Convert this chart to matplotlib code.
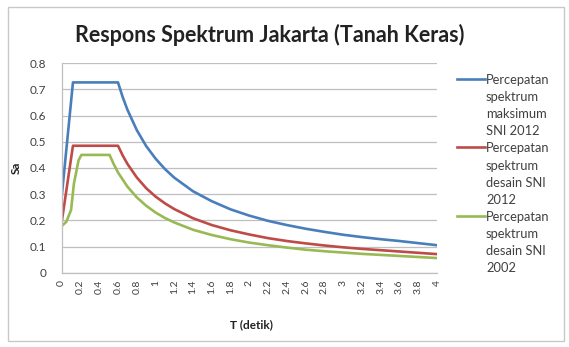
import matplotlib
matplotlib.use("Agg")
import matplotlib.pyplot as plt
from matplotlib.patches import Rectangle
from matplotlib.lines import Line2D

plt.rcParams['font.family'] = ['Lato', 'DejaVu Sans']

W, H = 569, 347

# periode (detik) dan percepatan spektrum
T_2012 = [0, 0.12, 0.6, 0.65, 0.7, 0.8, 0.9, 1.0, 1.1, 1.2, 1.4, 1.6, 1.8, 2.0,
          2.2, 2.4, 2.6, 2.8, 3.0, 3.2, 3.4, 3.6, 3.8, 4.0]
sa_maks_2012 = [0.29, 0.727, 0.727, 0.671, 0.623, 0.545, 0.484, 0.436, 0.396, 0.363,
                0.311, 0.273, 0.242, 0.218, 0.198, 0.182, 0.168, 0.156, 0.145, 0.136,
                0.128, 0.121, 0.113, 0.105]
sa_desain_2012 = [0.194, 0.485, 0.485, 0.448, 0.416, 0.364, 0.323, 0.291, 0.265, 0.243,
                  0.208, 0.182, 0.162, 0.146, 0.132, 0.121, 0.112, 0.104, 0.097, 0.091,
                  0.086, 0.081, 0.076, 0.071]

T_2002 = [0, 0.05, 0.1, 0.13, 0.18, 0.21, 0.51, 0.55, 0.6, 0.7, 0.8, 0.9, 1.0, 1.1,
          1.2, 1.4, 1.6, 1.8, 2.0, 2.2, 2.4, 2.6, 2.8, 3.0, 3.2, 3.4, 3.6, 3.8, 4.0]
sa_desain_2002 = [0.178, 0.195, 0.24, 0.34, 0.43, 0.45, 0.45, 0.418, 0.383, 0.329,
                  0.288, 0.256, 0.23, 0.209, 0.192, 0.164, 0.144, 0.128, 0.115, 0.105,
                  0.096, 0.088, 0.082, 0.077, 0.072, 0.068, 0.064, 0.060, 0.056]

series_labels = [['Percepatan', 'spektrum', 'maksimum', 'SNI 2012'],
                 ['Percepatan', 'spektrum', 'desain SNI', '2012'],
                 ['Percepatan', 'spektrum', 'desain SNI', '2002']]
series_colors = ['#4A7EBB', '#BE4B48', '#98B954']

xticks = [round(0.2 * i, 1) for i in range(21)]
xtick_labels = ['0', '0.2', '0.4', '0.6', '0.8', '1', '1.2', '1.4', '1.6', '1.8', '2',
                '2.2', '2.4', '2.6', '2.8', '3', '3.2', '3.4', '3.6', '3.8', '4']
yticks = [0, 0.1, 0.2, 0.3, 0.4, 0.5, 0.6, 0.7, 0.8]

fig = plt.figure(figsize=(W / 100, H / 100), dpi=100)
ax = fig.add_axes([61.7 / W, 1 - 272.7 / H, (437 - 61.7) / W, (272.7 - 63.3) / H])

ax.plot(T_2012, sa_maks_2012, color=series_colors[0], lw=1.9)
ax.plot(T_2012, sa_desain_2012, color=series_colors[1], lw=1.9)
ax.plot(T_2002, sa_desain_2002, color=series_colors[2], lw=1.9)

ax.set_xlim(0, 4)
ax.set_ylim(0, 0.8)
ax.set_xticks(xticks)
ax.set_xticklabels(xtick_labels, rotation=90, fontsize=7.5, color='#404040')
ax.set_yticks(yticks)
ax.set_yticklabels([f'{v:g}' for v in yticks], fontsize=8.5, color='#404040')
ax.tick_params(axis='x', length=0, pad=5)
ax.tick_params(axis='y', length=0, pad=11)
ax.grid(axis='y', color='#bfbfbf', lw=0.9)
ax.set_axisbelow(True)
for s in ['top', 'right']:
    ax.spines[s].set_visible(False)
for s in ['left', 'bottom']:
    ax.spines[s].set_color('#bfbfbf')
    ax.spines[s].set_linewidth(0.9)

ax.set_ylabel('Sa', fontsize=8.5, fontweight='bold', color='#222222')
ax.yaxis.set_label_coords((22 - 61.7) / (437 - 61.7), 0.5)
ax.set_xlabel('T (detik)', fontsize=8.5, fontweight='bold', color='#222222')
ax.xaxis.set_label_coords((251 - 61.7) / (437 - 61.7), -(325 - 272.7) / (272.7 - 63.3))
ax.xaxis.label.set_va('center')

fig.text(270 / W, 1 - 35 / H, 'Respons Spektrum Jakarta (Tanah Keras)',
         ha='center', va='center', fontsize=15.5, fontweight='bold', color='#222222')

# legenda di sebelah kanan, satu baris teks per 17 px
line_h = 17.1
for i, (lines, col) in enumerate(zip(series_labels, series_colors)):
    y0 = 79 + i * 4 * line_h
    fig.lines.append(Line2D([457 / W, 485 / W], [1 - y0 / H, 1 - y0 / H],
                            transform=fig.transFigure, color=col, lw=1.9))
    for k, txt in enumerate(lines):
        fig.text(486 / W, 1 - (y0 + k * line_h) / H, txt, ha='left', va='center_baseline',
                 fontsize=9.3, color='#404040')

fig.patches.append(Rectangle((8 / W, 1 - 341 / H), (564 - 8) / W, (341 - 7) / H,
                             transform=fig.transFigure, fill=False,
                             edgecolor='#c8c8c8', lw=1))

fig.savefig('out.png', dpi=100)
